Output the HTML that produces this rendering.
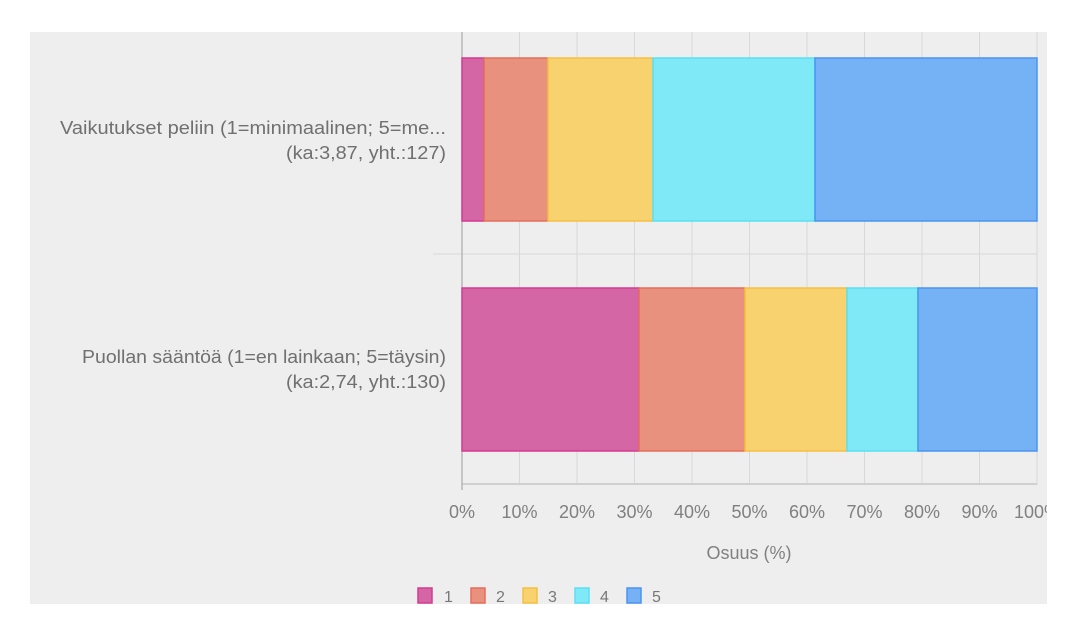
<!DOCTYPE html>
<html><head><style>
body{margin:0;background:#fff;width:1080px;height:635px;overflow:hidden;font-family:"Liberation Sans",sans-serif;}
</style></head><body>
<svg width="1080" height="635" xmlns="http://www.w3.org/2000/svg" font-family="Liberation Sans, sans-serif">
<rect x="30" y="32" width="1017" height="572" fill="#eeeeee"/>
<g stroke="#d8d8d8" stroke-width="1">
<line x1="519.5" y1="32" x2="519.5" y2="485"/><line x1="577" y1="32" x2="577" y2="485"/>
<line x1="634.5" y1="32" x2="634.5" y2="485"/><line x1="692" y1="32" x2="692" y2="485"/>
<line x1="749.5" y1="32" x2="749.5" y2="485"/><line x1="807" y1="32" x2="807" y2="485"/>
<line x1="864.5" y1="32" x2="864.5" y2="485"/><line x1="922" y1="32" x2="922" y2="485"/>
<line x1="979.5" y1="32" x2="979.5" y2="485"/><line x1="1037" y1="32" x2="1037" y2="485"/>
<line x1="433" y1="254" x2="1037" y2="254"/>
<line x1="462" y1="484" x2="1037" y2="484" stroke="#d0d0d0" stroke-width="2"/>
</g>
<line x1="462" y1="32" x2="462" y2="490" stroke="#aaa" stroke-width="1.2"/>
<g stroke-width="1.5">
<rect x="462" y="58" width="22" height="163" fill="#d466a6" stroke="#d63a8f"/>
<rect x="484" y="58" width="64" height="163" fill="#e8917f" stroke="#e56d5a"/>
<rect x="548" y="58" width="105" height="163" fill="#f7d26e" stroke="#f5c040"/>
<rect x="653" y="58" width="162" height="163" fill="#80e9f7" stroke="#5ae0f2"/>
<rect x="815" y="58" width="222" height="163" fill="#74b1f5" stroke="#4a94f0"/>
<rect x="462" y="288" width="177" height="163" fill="#d466a6" stroke="#d63a8f"/>
<rect x="639" y="288" width="106" height="163" fill="#e8917f" stroke="#e56d5a"/>
<rect x="745" y="288" width="102" height="163" fill="#f7d26e" stroke="#f5c040"/>
<rect x="847" y="288" width="71" height="163" fill="#80e9f7" stroke="#5ae0f2"/>
<rect x="918" y="288" width="119" height="163" fill="#74b1f5" stroke="#4a94f0"/>
</g>
<g fill="#707070" font-size="18.5">
<text x="60" y="134" textLength="386" lengthAdjust="spacingAndGlyphs">Vaikutukset peliin (1=minimaalinen; 5=me...</text>
<text x="286" y="159" textLength="160" lengthAdjust="spacingAndGlyphs">(ka:3,87, yht.:127)</text>
<text x="82" y="363" textLength="364" lengthAdjust="spacingAndGlyphs">Puollan sääntöä (1=en lainkaan; 5=täysin)</text>
<text x="286" y="388" textLength="160" lengthAdjust="spacingAndGlyphs">(ka:2,74, yht.:130)</text>
</g>
<g fill="#808080" font-size="18" text-anchor="middle">
<text x="462" y="518">0%</text><text x="519.5" y="518">10%</text><text x="577" y="518">20%</text>
<text x="634.5" y="518">30%</text><text x="692" y="518">40%</text><text x="749.5" y="518">50%</text>
<text x="807" y="518">60%</text><text x="864.5" y="518">70%</text><text x="922" y="518">80%</text>
<text x="979.5" y="518">90%</text><text x="1037" y="518">100%</text>
<text x="749" y="559">Osuus (%)</text>
</g>
<rect x="1047" y="32" width="33" height="500" fill="#fff"/>
<g stroke-width="1.5">
<rect x="418" y="588" width="14" height="15" fill="#d466a6" stroke="#d63a8f"/>
<rect x="471" y="588" width="14" height="15" fill="#e8917f" stroke="#e56d5a"/>
<rect x="523" y="588" width="14" height="15" fill="#f7d26e" stroke="#f5c040"/>
<rect x="575" y="588" width="14" height="15" fill="#80e9f7" stroke="#5ae0f2"/>
<rect x="627" y="588" width="14" height="15" fill="#74b1f5" stroke="#4a94f0"/>
</g>
<g font-size="16" fill="#777">
<text x="444" y="602">1</text><text x="496" y="602">2</text><text x="548" y="602">3</text><text x="600" y="602">4</text><text x="652" y="602">5</text>
</g>
<rect x="0" y="604" width="1080" height="31" fill="#fff"/>
</svg>
</body></html>
